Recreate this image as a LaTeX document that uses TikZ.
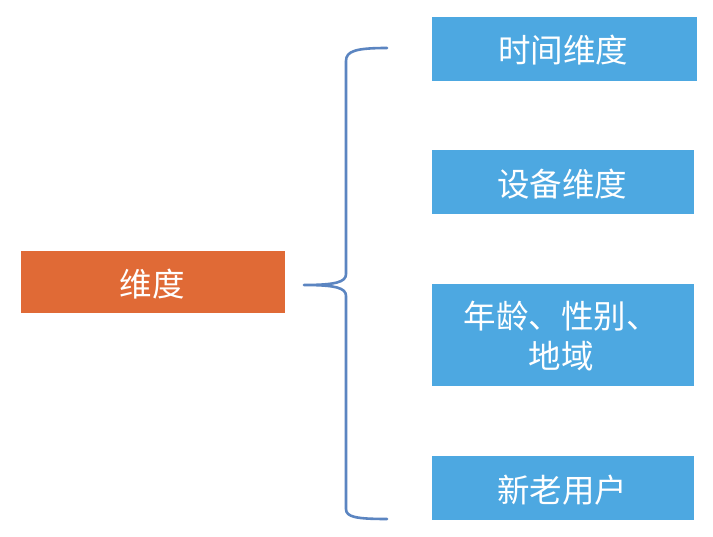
\documentclass[tikz,border=0pt]{standalone}
\usepackage{fontspec}
\newfontfamily\cjk{Noto Sans CJK SC}
\definecolor{orangebox}{RGB}{224,106,54}
\definecolor{bluebox}{RGB}{77,168,225}
\definecolor{bracecol}{RGB}{91,133,193}
\begin{document}
\begin{tikzpicture}[x=1pt,y=-1pt,
  box/.style={draw=none,inner sep=0pt,text=white,align=center,
    font=\cjk\fontsize{32.5}{40}\selectfont},
  brace/.style={draw=bracecol,line width=2.6pt,line cap=round,line join=round}]
\useasboundingbox (0,0) rectangle (713,537);
\fill[white] (0,0) rectangle (713,537);
% boxes
\fill[orangebox] (21,251) rectangle (285,313);
\fill[bluebox] (432,17) rectangle (697,81);
\fill[bluebox] (432,150) rectangle (694,214);
\fill[bluebox] (432,284) rectangle (694,386);
\fill[bluebox] (432,456) rectangle (694,520);
\node[box] (root) at (152,284) {维度};
\node[box] (t1) at (563,50) {时间维度};
\node[box] (t2) at (562,184) {设备维度};
\node[box] (t3) at (561,336) {年龄、性别、\\地域};
\node[box] (t4) at (562,490) {新老用户};
% brace
\coordinate (btop) at (387,48);
\coordinate (btip) at (304,285);
\coordinate (bbot) at (387,519);
\draw[brace] (btop) .. controls (356,48) and (346,51) .. (346,61)
  -- (346,274) .. controls (346,282) and (336,285) .. (btip)
  .. controls (336,285) and (346,288) .. (346,296)
  -- (346,509) .. controls (346,517) and (356,519) .. (bbot);
\end{tikzpicture}
\end{document}
